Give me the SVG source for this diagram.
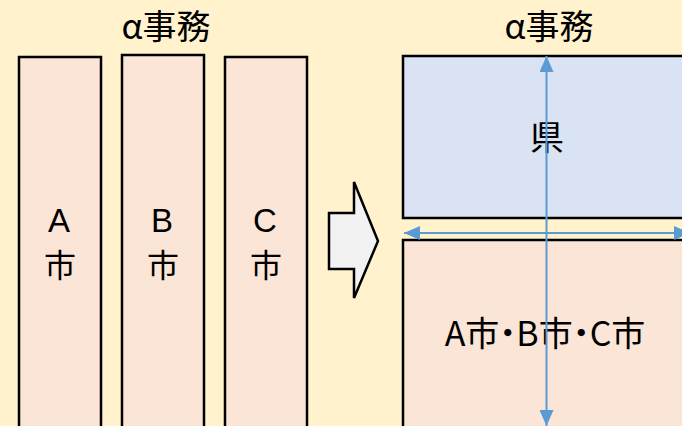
<svg xmlns="http://www.w3.org/2000/svg" width="682" height="426" viewBox="0 0 682 426">
<defs>
<style>
.t{font-family:"Noto Sans CJK JP","Noto Sans",sans-serif;font-size:34px;fill:#000;text-anchor:middle}
.l{font-family:"Liberation Sans","Noto Sans",sans-serif;font-size:33px;fill:#000;text-anchor:middle}
.k{font-family:"Noto Sans CJK JP","Noto Sans",sans-serif;font-size:32px;fill:#000;text-anchor:middle}
.p{font-feature-settings:"palt"}
.city{fill:#FBE5D6;stroke:#000;stroke-width:2.5}
.pref{fill:#DAE3F3;stroke:#000;stroke-width:2.5}
.ln{stroke:#5B9BD5;stroke-width:2;fill:none}
</style>
<marker id="ah" viewBox="0 0 16 14" refX="16" refY="7" markerWidth="16" markerHeight="14" markerUnits="userSpaceOnUse" orient="auto-start-reverse">
<path d="M0,0 L16,7 L0,14 Z" fill="#5B9BD5"/>
</marker>
</defs>
<rect width="682" height="426" fill="#FFF2CC"/>
<g id="title-left"><text class="t" x="166" y="39">α事務</text></g>
<g id="title-right"><text class="t" x="549" y="39">α事務</text></g>
<g id="cityA"><rect class="city" x="19" y="57" width="82" height="380"/><text class="l" x="59" y="232">A</text><text class="k" x="60" y="277">市</text></g>
<g id="cityB"><rect class="city" x="122" y="55" width="82" height="382"/><text class="l" x="162" y="232">B</text><text class="k" x="163" y="277">市</text></g>
<g id="cityC"><rect class="city" x="225" y="57" width="82" height="380"/><text class="l" x="265" y="232">C</text><text class="k" x="266" y="277">市</text></g>
<g id="arrow"><polygon points="329,213 354,213 354,182 378,241 354,298 354,269 329,269" fill="#F2F2F2" stroke="#000" stroke-width="2.5" stroke-linejoin="miter"/></g>
<g id="pref"><rect class="pref" x="403" y="56" width="290" height="162"/><text class="t" x="547" y="150">県</text></g>
<g id="cities"><rect class="city" x="403" y="240" width="290" height="200"/><text class="t p" x="545" y="346">A市・B市・C市</text></g>
<g id="connectors">
<line class="ln" x1="404" y1="233" x2="690" y2="233" marker-start="url(#ah)" marker-end="url(#ah)"/>
<line class="ln" x1="546.5" y1="56" x2="546.5" y2="426" marker-start="url(#ah)" marker-end="url(#ah)"/>
</g>
</svg>
